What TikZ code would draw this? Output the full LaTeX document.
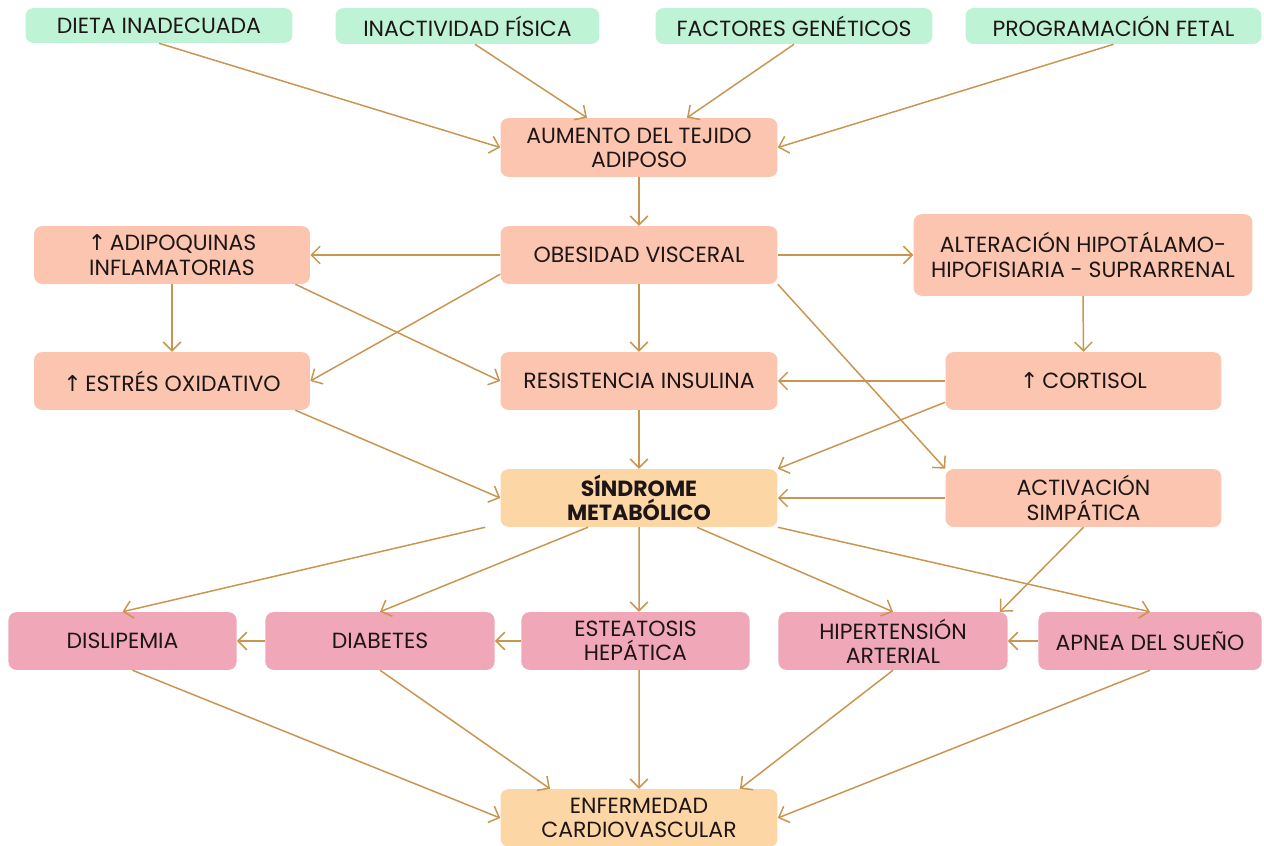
\documentclass[tikz,border=0pt]{standalone}
\usepackage{fontspec}
\setmainfont{Poppins}
\newfontfamily\symfont{DejaVu Sans}
\usetikzlibrary{arrows.meta,calc}
\definecolor{cgreen}{RGB}{190,243,214}
\definecolor{csalmon}{RGB}{251,197,176}
\definecolor{corange}{RGB}{253,214,166}
\definecolor{cpink}{RGB}{240,168,184}
\definecolor{carrow}{RGB}{200,150,80}
\definecolor{ctext}{RGB}{30,22,22}
\newcommand{\up}{{\symfont\char"2191}\,}
\begin{document}
\begin{tikzpicture}[x=0.02cm,y=-0.02cm,
  box/.style={rounded corners=0.16cm, align=center, inner sep=2pt, text=ctext,
    font=\fontsize{12.5pt}{13.8pt}\selectfont},
  gbox/.style={box, fill=cgreen},
  sbox/.style={box, fill=csalmon},
  obox/.style={box, fill=corange},
  pbox/.style={box, fill=cpink},
  arr/.style={draw=carrow, line width=0.85pt, -{Straight Barb[length=5pt,width=10pt]}}]
\useasboundingbox (0,0) rectangle (1264,845);
\newcommand{\bx}[7]{\node[#2, minimum width={#5*0.5669pt}, minimum height={#6*0.5669pt}] (#1) at (#3,#4) {#7};}
% top row
\bx{dieta}{gbox}{159}{25.5}{268}{35}{DIETA INADECUADA}
\bx{inact}{gbox}{467.5}{26}{265}{36}{INACTIVIDAD FÍSICA}
\bx{fact}{gbox}{794}{26}{278}{36}{FACTORES GENÉTICOS}
\bx{prog}{gbox}{1113.5}{26}{297}{36}{PROGRAMACIÓN FETAL}
% middle
\bx{aum}{sbox}{639}{147.5}{278}{59}{AUMENTO DEL TEJIDO\\ADIPOSO}
\bx{adip}{sbox}{172}{255}{277}{58}{\up ADIPOQUINAS\\INFLAMATORIAS}
\bx{obes}{sbox}{639}{255}{278}{58}{OBESIDAD VISCERAL}
\bx{alt}{sbox}{1083}{255}{340}{82}{ALTERACIÓN HIPOTÁLAMO-\\HIPOFISIARIA - SUPRARRENAL}
\bx{estr}{sbox}{172}{381}{277}{58}{\up ESTRÉS OXIDATIVO}
\bx{resi}{sbox}{639}{381}{278}{58}{RESISTENCIA INSULINA}
\bx{cort}{sbox}{1083.5}{381}{277}{58}{\up CORTISOL}
\bx{sind}{obox}{639}{498}{278}{58}{\textbf{SÍNDROME}\\\textbf{METABÓLICO}}
\bx{activ}{sbox}{1083.5}{498}{277}{58}{ACTIVACIÓN\\SIMPÁTICA}
% bottom row
\bx{disl}{pbox}{122.5}{641}{229}{58}{DISLIPEMIA}
\bx{diab}{pbox}{380}{641}{230}{58}{DIABETES}
\bx{este}{pbox}{635.5}{641}{229}{58}{ESTEATOSIS\\HEPÁTICA}
\bx{hipe}{pbox}{893}{641}{230}{58}{HIPERTENSIÓN\\ARTERIAL}
\bx{apne}{pbox}{1150}{641}{224}{58}{APNEA DEL SUEÑO}
\bx{enfe}{obox}{639}{818}{278}{58}{ENFERMEDAD\\CARDIOVASCULAR}
% arrows
\draw[arr] (dieta.south) -- (aum.west);
\draw[arr] ([xshift=0.15cm]inact.south) -- ([xshift=-1.04cm]aum.north);
\draw[arr] (fact.south) -- ([xshift=0.96cm]aum.north);
\draw[arr] (prog.south) -- (aum.east);
\draw[arr] (aum.south) -- (obes.north);
\draw[arr] (obes.west) -- (adip.east);
\draw[arr] (obes.east) -- (alt.west);
\draw[arr] ([yshift=0.2cm]obes.south west) -- (estr.east);
\draw[arr] ([xshift=-0.3cm]adip.south east) -- (resi.west);
\draw[arr] (adip.south) -- (estr.north);
\draw[arr] (obes.south) -- (resi.north);
\draw[arr] (obes.south east) -- (activ.north west);
\draw[arr] (alt.south) -- (cort.north);
\draw[arr] (cort.west) -- (resi.east);
\draw[arr] ([yshift=0.16cm]cort.south west) -- (sind.north east);
\draw[arr] ([xshift=-0.3cm]estr.south east) -- (sind.west);
\draw[arr] (resi.south) -- (sind.north);
\draw[arr] (activ.west) -- (sind.east);
\draw[arr] ([xshift=-0.3cm]sind.south west) -- (disl.north);
\draw[arr] ([xshift=-1.02cm]sind.south) -- (diab.north);
\draw[arr] (sind.south) -- ([xshift=0.07cm]este.north);
\draw[arr] ([xshift=1.16cm]sind.south) -- (hipe.north);
\draw[arr] (sind.south east) -- (apne.north);
\draw[arr] (activ.south) -- ([xshift=-0.16cm]hipe.north east);
\draw[arr] (diab.west) -- (disl.east);
\draw[arr] (este.west) -- (diab.east);
\draw[arr] (apne.west) -- (hipe.east);
\draw[arr] ([xshift=0.2cm]disl.south) -- (enfe.west);
\draw[arr] (diab.south) -- ([xshift=-1.78cm]enfe.north);
\draw[arr] ([xshift=0.07cm]este.south) -- (enfe.north);
\draw[arr] (hipe.south) -- ([xshift=2.02cm]enfe.north);
\draw[arr] (apne.south) -- (enfe.east);
\end{tikzpicture}
\end{document}
